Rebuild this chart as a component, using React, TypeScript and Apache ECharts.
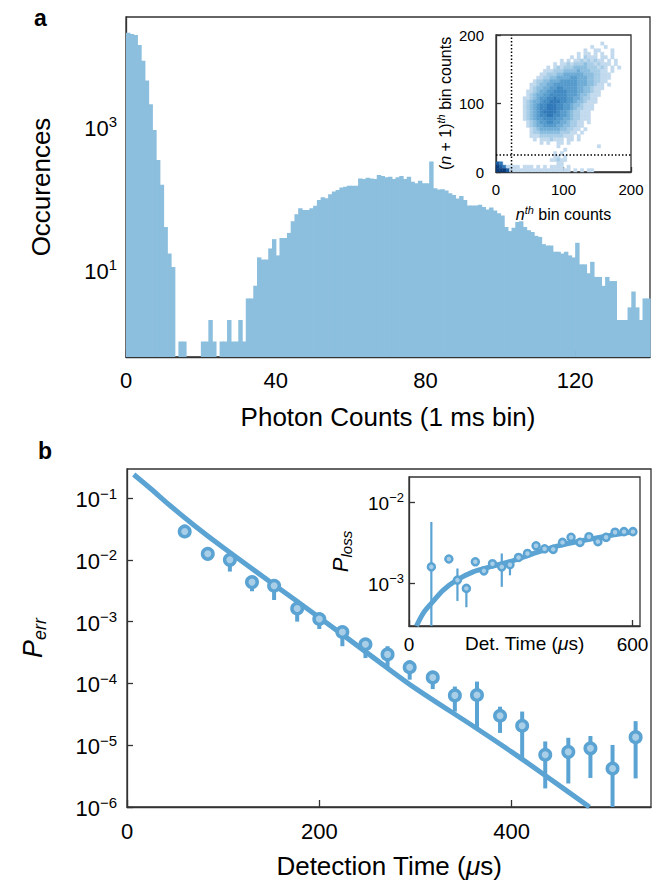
import React, { useEffect, useRef } from "react";
import * as echarts from "echarts";

const FONT = '"Liberation Sans", Arial, Helvetica, sans-serif';
const INK = "#000000";
const AXIS = "#333333";
const BLUE = "#5aa3d3";
const BLUE_FILL = "#a9cfe8";
const HIST_BLUE = "#8cbfde";

// ---------- Panel a: photon-count histogram (bin i covers [i, i+1)) ----------
const histCounts = [
  20800, 19900, 19400, 14000, 8400, 4450, 2080, 910, 345, 155,
  40, 17, 11, 0, 1, 1, 0, 0, 0, 0,
  1, 1, 2, 1, 0, 1, 1, 2, 1, 1,
  2, 1, 4, 4, 6, 15, 14, 14, 20, 27,
  16, 28, 28, 33, 48, 60, 73, 69, 69, 73,
  79, 95, 104, 101, 115, 125, 131, 142, 146, 151,
  151, 151, 191, 187, 195, 191, 187, 213, 207, 198,
  202, 187, 198, 207, 187, 202, 172, 163, 177, 163,
  163, 330, 139, 133, 135, 129, 118, 112, 100, 108,
  95, 80, 80, 80, 82, 76, 70, 75, 68, 62,
  58, 40, 35, 39, 47, 48, 40, 36, 34, 30,
  29, 23, 22, 22, 18, 18, 17, 18, 16, 15,
  24, 12, 12, 9, 13, 8, 8, 6, 8, 7,
  7, 2, 2, 2, 3, 5, 3, 2, 4, 4,
];
const histXMax = 140;
const histYMin = 0.607;
const histYMax = 34500;
const histXLabels = [0, 40, 80, 120];
const histYLabels = [10, 1000];

// ---------- Inset a: 2D histogram of consecutive bins ----------
const heatCell = 5;
const heatRange = 200;
// rows from the top (y 195-200) downwards: [first column, intensity levels 0-9]
const heatRows: [number, string][] = [
  [0, ""],
  [0, ""],
  [31, "1"],
  [28, "10001"],
  [26, "100110001"],
  [24, "10110101001"],
  [22, "1010211101101"],
  [19, "10101121212110101"],
  [17, "1011212223221211101"],
  [15, "1012122233332221210101"],
  [14, "1112223333433322211010"],
  [13, "11222334444443332211100"],
  [12, "1122334444554443322111"],
  [11, "12233444555554443322110"],
  [10, "112334455555554443321101"],
  [10, "12334455665555443321110"],
  [9, "112344556666555443321100"],
  [9, "12344556666655543321110"],
  [8, "112345566766655443221100"],
  [8, "12344566777665543321110"],
  [8, "12345667776655433211100"],
  [8, "1234566777665543221110"],
  [8, "1234567777655432211100"],
  [8, "123456677665543221110"],
  [8, "12345566665544322111"],
  [9, "1234556655443221101"],
  [9, "123445555443322110"],
  [10, "12344444433221101"],
  [10, "1223333332221101"],
  [10, "1112222222111010"],
  [11, "10111211101101"],
  [13, "101001101"],
  [18, "1000000000001"],
  [20, "1"],
  [17, "101"],
  [17, "1101"],
  [16, "11211"],
  [0, "8700000000000000001100"],
  [0, "9871111011101010111101"],
  [0, "9998111111111111111111010101100"],
];
const heatPalette = ["", "#c2daee", "#a6cce7", "#8abddf", "#6eacd6", "#559bcc", "#418ac2", "#3078b8", "#1b5a9c", "#0b3b78"];
const heatThresholdX = 23;
const heatThresholdY = 25;
const heatTicks = [0, 100, 200];

// ---------- Panel b: error probability vs detection time ----------
const errTimes = [60, 84, 107, 130, 153, 177, 200, 224, 248, 271, 294, 318, 341, 364, 388, 411, 435, 459, 482, 505, 529];
const errValues = [0.0288, 0.0125, 0.01, 0.00436, 0.0038, 0.00163, 0.0011, 6.8e-4, 4.3e-4, 2.95e-4, 1.83e-4, 1.25e-4, 6.4e-5, 6.5e-5, 3.0e-5, 2.06e-5, 7.0e-6, 7.8e-6, 8.9e-6, 4.2e-6, 1.35e-5];
const errLow = [0.0288, 0.0125, 0.00646, 0.0031, 0.00224, 0.001, 7.6e-4, 4.0e-4, 2.57e-4, 1.86e-4, 1.15e-4, 8.1e-5, 3.5e-5, 1.95e-5, 1.58e-5, 6.2e-6, 2.0e-6, 2.4e-6, 2.95e-6, 1.0e-6, 2.9e-6];
const errHigh = [0.0288, 0.0125, 0.01, 0.00436, 0.0038, 0.00163, 0.0011, 6.8e-4, 4.3e-4, 4.0e-4, 1.83e-4, 1.25e-4, 8.9e-5, 1.07e-4, 4.2e-5, 3.5e-5, 1.15e-5, 1.32e-5, 1.41e-5, 1.01e-5, 2.45e-5];
const errFitTimes = [7, 25, 45, 70, 100, 150, 200, 263, 300, 363, 400, 435, 481];
const errFitValues = [0.24, 0.14, 0.075, 0.036, 0.0158, 0.00427, 0.00117, 2.19e-4, 8.3e-5, 1.9e-5, 7.8e-6, 3.24e-6, 1.0e-6];
const errXMax = 545;
const errYMin = 1e-6;
const errYMax = 0.295;
const errXLabels = [0, 200, 400];
const errYLabels = [1e-6, 1e-5, 1e-4, 1e-3, 1e-2, 1e-1];

// ---------- Inset b: loss probability ----------
const lossTimes = [60, 107, 130, 154, 178, 201, 224, 249, 271, 294, 318, 341, 364, 387, 412, 435, 459, 483, 507, 529, 553, 577, 601];
const lossValues = [1.6e-3, 2.0e-3, 1.1e-3, 8.7e-4, 1.85e-3, 1.43e-3, 1.75e-3, 1.6e-3, 1.7e-3, 2.09e-3, 2.34e-3, 2.91e-3, 2.67e-3, 2.63e-3, 3.2e-3, 3.7e-3, 3.2e-3, 3.76e-3, 3.27e-3, 3.7e-3, 4.27e-3, 4.34e-3, 4.34e-3];
const lossLow = [3.0e-4, 2.0e-3, 6.1e-4, 5.1e-4, 1.85e-3, 1.43e-3, 1.75e-3, 9.1e-4, 1.26e-3, 2.09e-3, 2.34e-3, 2.91e-3, 2.67e-3, 2.63e-3, 3.2e-3, 3.7e-3, 3.2e-3, 3.76e-3, 3.27e-3, 3.7e-3, 4.27e-3, 4.34e-3, 4.34e-3];
const lossHigh = [5.7e-3, 2.0e-3, 1.53e-3, 8.7e-4, 1.85e-3, 1.43e-3, 1.75e-3, 2.34e-3, 1.7e-3, 2.09e-3, 2.34e-3, 2.91e-3, 2.67e-3, 2.63e-3, 3.2e-3, 3.7e-3, 3.2e-3, 3.76e-3, 3.27e-3, 3.7e-3, 4.27e-3, 4.34e-3, 4.34e-3];
const lossFitTimes = [20, 38, 60, 92, 128, 172, 217, 270, 330, 400, 470, 540, 600];
const lossFitValues = [3.0e-4, 4.3e-4, 5.7e-4, 8.3e-4, 1.1e-3, 1.39e-3, 1.6e-3, 1.85e-3, 2.3e-3, 2.9e-3, 3.4e-3, 3.9e-3, 4.3e-3];
const lossXMax = 620;
const lossYMin = 3.0e-4;
const lossYMax = 0.0204;
const lossXLabels = [0, 600];
const lossYLabels = [1e-3, 1e-2];

// ---------- helpers ----------
function powLabel(v: number): string {
  const e = Math.round(Math.log10(v));
  const s = e < 0 ? "\u2212" + String(-e) : String(e);
  return `{b|10}{s|${s}}`;
}
function powRich(base: number, sup: number, lift: number) {
  return {
    b: { fontSize: base, fontFamily: FONT, color: INK, verticalAlign: "bottom" },
    s: { fontSize: sup, fontFamily: FONT, color: INK, verticalAlign: "bottom", padding: [0, 0, lift, 0] },
  };
}
const lineStyle = { color: AXIS, width: 1.3 };

const heatCells: number[][] = [];
heatRows.forEach(([start, s], r) => {
  for (let k = 0; k < s.length; k++) {
    const lv = Number(s[k]);
    if (lv > 0) heatCells.push([(start + k) * heatCell, heatRange - (r + 1) * heatCell, lv]);
  }
});

function buildOption(): any {
  const histData = histCounts.map((c, i) => [i, c]).filter((d) => d[1] > 0);
  return {
    animation: false,
    backgroundColor: "#ffffff",
    textStyle: { fontFamily: FONT },
    grid: [
      { left: 126, top: 17, width: 524, height: 340, show: true, borderColor: AXIS, borderWidth: 1.3, backgroundColor: "transparent" },
      { left: 496, top: 35, width: 135, height: 137, show: true, borderColor: AXIS, borderWidth: 1.3, backgroundColor: "#ffffff" },
      { left: 127, top: 469, width: 524, height: 338, show: true, borderColor: AXIS, borderWidth: 1.3, backgroundColor: "transparent" },
      { left: 409, top: 477, width: 231, height: 149, show: true, borderColor: AXIS, borderWidth: 1.3, backgroundColor: "#ffffff" },
    ],
    xAxis: [
      {
        gridIndex: 0, type: "value", min: 0, max: histXMax,
        axisLine: { show: true, lineStyle },
        axisTick: { show: true, inside: true, length: 7, customValues: histXLabels, lineStyle },
        axisLabel: { customValues: histXLabels, fontSize: 22, margin: 12, color: INK, fontFamily: FONT },
        splitLine: { show: false },
        name: "Photon Counts (1 ms bin)", nameLocation: "middle", nameGap: 47, nameMoveOverlap: false,
        nameTextStyle: { fontSize: 26, color: INK, fontFamily: FONT },
      },
      {
        gridIndex: 1, type: "value", min: 0, max: heatRange,
        axisLine: { show: true, lineStyle },
        axisTick: { show: true, inside: true, length: 5, customValues: heatTicks, lineStyle },
        axisLabel: { customValues: heatTicks, fontSize: 15, margin: 10, color: INK, fontFamily: FONT },
        splitLine: { show: false },
        name: "{i|n}{t|th}{n| bin counts}", nameLocation: "middle", nameGap: 32, nameMoveOverlap: false,
        nameTextStyle: {
          rich: {
            i: { fontSize: 16, fontStyle: "italic", fontFamily: FONT, color: INK, verticalAlign: "bottom" },
            t: { fontSize: 11, fontStyle: "italic", fontFamily: FONT, color: INK, verticalAlign: "bottom", padding: [0, 0, 7, 0] },
            n: { fontSize: 16, fontFamily: FONT, color: INK, verticalAlign: "bottom" },
          },
        },
      },
      {
        gridIndex: 2, type: "value", min: 0, max: errXMax,
        axisLine: { show: true, lineStyle },
        axisTick: { show: true, inside: true, length: 7, customValues: errXLabels, lineStyle },
        axisLabel: { customValues: errXLabels, fontSize: 22, margin: 13, color: INK, fontFamily: FONT },
        splitLine: { show: false },
        name: "{n|Detection Time (}{i|\u03bc}{n|s)}", nameLocation: "middle", nameGap: 46, nameMoveOverlap: false,
        nameTextStyle: {
          rich: {
            n: { fontSize: 26, fontFamily: FONT, color: INK },
            i: { fontSize: 26, fontStyle: "italic", fontFamily: FONT, color: INK },
          },
        },
      },
      {
        gridIndex: 3, type: "value", min: 0, max: lossXMax,
        axisLine: { show: true, lineStyle },
        axisTick: { show: true, inside: true, length: 6, customValues: lossXLabels, lineStyle },
        axisLabel: { customValues: lossXLabels, fontSize: 19, margin: 9, color: INK, fontFamily: FONT },
        splitLine: { show: false },
        name: "{n|Det. Time (}{i|\u03bc}{n|s)}", nameLocation: "middle", nameGap: 8, nameMoveOverlap: false,
        nameTextStyle: {
          rich: {
            n: { fontSize: 19, fontFamily: FONT, color: INK },
            i: { fontSize: 19, fontStyle: "italic", fontFamily: FONT, color: INK },
          },
        },
      },
    ],
    yAxis: [
      {
        gridIndex: 0, type: "log", logBase: 10, min: histYMin, max: histYMax,
        axisLine: { show: true, lineStyle },
        axisTick: { show: true, inside: true, length: 7, customValues: histYLabels, lineStyle },
        axisLabel: { customValues: histYLabels, margin: 9, formatter: powLabel, rich: powRich(22, 15, 10) },
        splitLine: { show: false },
        name: "Occurences", nameLocation: "middle", nameGap: 72, nameMoveOverlap: false,
        nameTextStyle: { fontSize: 26, color: INK, fontFamily: FONT },
      },
      {
        gridIndex: 1, type: "value", min: 0, max: heatRange,
        axisLine: { show: true, lineStyle },
        axisTick: { show: true, inside: true, length: 5, customValues: heatTicks, lineStyle },
        axisLabel: { customValues: heatTicks, fontSize: 15, margin: 12, color: INK, fontFamily: FONT },
        splitLine: { show: false },
        name: "{n|(}{i|n}{n| + 1)}{t|th}{n| bin counts}", nameLocation: "middle", nameGap: 43, nameMoveOverlap: false,
        nameTextStyle: {
          rich: {
            i: { fontSize: 16, fontStyle: "italic", fontFamily: FONT, color: INK, verticalAlign: "bottom" },
            t: { fontSize: 11, fontStyle: "italic", fontFamily: FONT, color: INK, verticalAlign: "bottom", padding: [0, 0, 7, 0] },
            n: { fontSize: 16, fontFamily: FONT, color: INK, verticalAlign: "bottom" },
          },
        },
      },
      {
        gridIndex: 2, type: "log", logBase: 10, min: errYMin, max: errYMax,
        axisLine: { show: true, lineStyle },
        axisTick: { show: true, inside: true, length: 6, customValues: errYLabels, lineStyle },
        axisLabel: { customValues: errYLabels, margin: 10, formatter: powLabel, rich: powRich(22, 15, 10) },
        splitLine: { show: false },
        name: "{p|P}{s|err}", nameLocation: "middle", nameGap: 78, nameMoveOverlap: false,
        nameTextStyle: {
          rich: {
            p: { fontSize: 27, fontStyle: "italic", fontFamily: FONT, color: INK, verticalAlign: "bottom", padding: [0, 0, 3, 0] },
            s: { fontSize: 18, fontStyle: "italic", fontFamily: FONT, color: INK, verticalAlign: "bottom" },
          },
        },
      },
      {
        gridIndex: 3, type: "log", logBase: 10, min: lossYMin, max: lossYMax,
        axisLine: { show: true, lineStyle },
        axisTick: { show: true, inside: true, length: 6, customValues: lossYLabels, lineStyle },
        axisLabel: { customValues: lossYLabels, margin: 5, formatter: powLabel, rich: powRich(19, 13, 9) },
        splitLine: { show: false },
        name: "{p|P}{s|loss}", nameLocation: "middle", nameGap: 55, nameMoveOverlap: false,
        nameTextStyle: {
          rich: {
            p: { fontSize: 22, fontStyle: "italic", fontFamily: FONT, color: INK, verticalAlign: "bottom", padding: [0, 0, 3, 0] },
            s: { fontSize: 15, fontStyle: "italic", fontFamily: FONT, color: INK, verticalAlign: "bottom" },
          },
        },
      },
    ],
    series: [
      {
        type: "custom", xAxisIndex: 0, yAxisIndex: 0, z: 2,
        data: histData, encode: { x: 0, y: 1 },
        renderItem: (_p: any, api: any) => {
          const i = api.value(0);
          const c = api.value(1);
          const a = api.coord([i, c]);
          const b = api.coord([i + 1, histYMin]);
          return {
            type: "rect",
            shape: { x: a[0], y: a[1], width: b[0] - a[0] + 0.7, height: b[1] - a[1] },
            style: { fill: HIST_BLUE },
          };
        },
      },
      {
        type: "custom", xAxisIndex: 1, yAxisIndex: 1, z: 3,
        data: heatCells, encode: { x: 0, y: 1 },
        renderItem: (_p: any, api: any) => {
          const x0 = api.value(0);
          const y0 = api.value(1);
          const lv = api.value(2);
          const a = api.coord([x0, y0 + heatCell]);
          const b = api.coord([x0 + heatCell, y0]);
          return {
            type: "rect",
            shape: { x: a[0], y: a[1], width: b[0] - a[0], height: b[1] - a[1] },
            style: { fill: heatPalette[lv], stroke: heatPalette[lv], lineWidth: 0.4 },
          };
        },
      },
      {
        type: "line", xAxisIndex: 1, yAxisIndex: 1, z: 5, symbol: "none",
        data: [[heatThresholdX, 0], [heatThresholdX, heatRange]],
        lineStyle: { color: "#000", width: 1.5, type: [1.5, 2] },
      },
      {
        type: "line", xAxisIndex: 1, yAxisIndex: 1, z: 5, symbol: "none",
        data: [[0, heatThresholdY], [heatRange, heatThresholdY]],
        lineStyle: { color: "#000", width: 1.5, type: [1.5, 2] },
      },
      {
        type: "line", xAxisIndex: 2, yAxisIndex: 2, z: 2, symbol: "none", clip: true, smooth: 0.3,
        data: errFitTimes.map((t, i) => [t, errFitValues[i]]),
        lineStyle: { color: BLUE, width: 5 },
      },
      {
        type: "custom", xAxisIndex: 2, yAxisIndex: 2, z: 3,
        data: errTimes.map((t, i) => [t, errLow[i], errHigh[i]]), encode: { x: 0, y: [1, 2] },
        renderItem: (_p: any, api: any) => {
          const x = api.value(0);
          const a = api.coord([x, api.value(1)]);
          const b = api.coord([x, api.value(2)]);
          return { type: "line", shape: { x1: a[0], y1: a[1], x2: b[0], y2: b[1] }, style: { stroke: BLUE, lineWidth: 4 } };
        },
      },
      {
        type: "scatter", xAxisIndex: 2, yAxisIndex: 2, z: 4, symbol: "circle", symbolSize: 10.5,
        data: errTimes.map((t, i) => [t, errValues[i]]),
        itemStyle: { color: BLUE_FILL, borderColor: BLUE, borderWidth: 3.5, opacity: 1 },
      },
      {
        type: "line", xAxisIndex: 3, yAxisIndex: 3, z: 6, symbol: "none", clip: true, smooth: 0.3,
        data: lossFitTimes.map((t, i) => [t, lossFitValues[i]]),
        lineStyle: { color: BLUE, width: 5 },
      },
      {
        type: "custom", xAxisIndex: 3, yAxisIndex: 3, z: 7,
        data: lossTimes.map((t, i) => [t, lossLow[i], lossHigh[i]]), encode: { x: 0, y: [1, 2] },
        renderItem: (_p: any, api: any) => {
          const x = api.value(0);
          const a = api.coord([x, api.value(1)]);
          const b = api.coord([x, api.value(2)]);
          return { type: "line", shape: { x1: a[0], y1: a[1], x2: b[0], y2: b[1] }, style: { stroke: BLUE, lineWidth: 2.2 } };
        },
      },
      {
        type: "scatter", xAxisIndex: 3, yAxisIndex: 3, z: 8, symbol: "circle", symbolSize: 7,
        data: lossTimes.map((t, i) => [t, lossValues[i]]),
        itemStyle: { color: BLUE_FILL, borderColor: BLUE, borderWidth: 2.5, opacity: 1 },
      },
    ],
    graphic: [
      { type: "text", left: 34, top: 6, style: { text: "a", font: `bold 23px ${FONT}`, fill: INK } },
      { type: "text", left: 38, top: 439, style: { text: "b", font: `bold 23px ${FONT}`, fill: INK } },
    ],
  };
}

export default function App() {
  const ref = useRef<HTMLDivElement | null>(null);
  useEffect(() => {
    if (!ref.current) return;
    const chart = echarts.init(ref.current, undefined, { renderer: "svg" });
    chart.setOption(buildOption());
    return () => chart.dispose();
  }, []);
  return <div ref={ref} style={{ position: "absolute", left: 0, top: 0, width: 657, height: 882, background: "#fff" }} />;
}
